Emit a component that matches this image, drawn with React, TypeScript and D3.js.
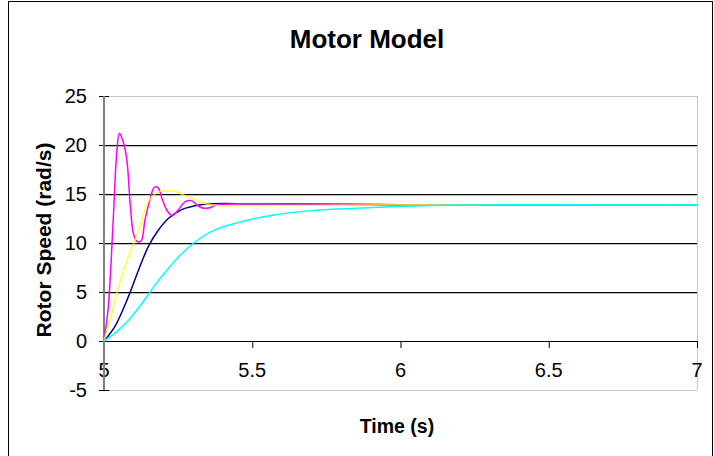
import * as d3 from 'd3';

const W = 714;
const H = 456;

const yTicks = [-5, 0, 5, 10, 15, 20, 25];
const xTicks = [5, 5.5, 6, 6.5, 7];

// series (time in s, speed in rad/s)
const magentaT = [5.0, 5.0145, 5.031, 5.043, 5.052, 5.065, 5.077, 5.088, 5.099, 5.11, 5.125, 5.138, 5.155, 5.17, 5.183, 5.195, 5.211, 5.23, 5.251, 5.273, 5.296, 5.313, 5.329, 5.357, 5.38, 5.45, 5.6, 6.0, 7.0];
const magentaV = [0, 3.5, 12.3, 19.2, 21.2, 20.3, 18.5, 14.1, 11.0, 10.2, 10.2, 12.3, 14.4, 15.7, 15.6, 14.6, 13.4, 12.8, 13.4, 14.2, 14.3, 13.9, 13.6, 13.6, 13.9, 14.0, 14.0, 13.9, 13.9];

const yellowT = [5.0, 5.0145, 5.026, 5.037, 5.06, 5.082, 5.105, 5.127, 5.149, 5.172, 5.195, 5.217, 5.239, 5.267, 5.296, 5.33, 5.363, 5.397, 5.5, 6.0, 7.0];
const yellowV = [0, 1.6, 2.8, 4.2, 6.6, 8.6, 10.3, 12.3, 14.2, 15.0, 15.3, 15.3, 15.3, 14.9, 14.6, 14.1, 13.9, 13.8, 13.8, 13.9, 13.9];

const navyT = [5.0, 5.037, 5.082, 5.116, 5.149, 5.183, 5.217, 5.262, 5.307, 5.363, 5.5, 6.0, 7.0];
const navyV = [0, 1.5, 4.5, 7.2, 9.6, 11.3, 12.5, 13.4, 13.8, 14.0, 14.0, 13.9, 13.9];

const cyanT = [5.0, 5.037, 5.082, 5.127, 5.172, 5.217, 5.262, 5.307, 5.352, 5.397, 5.442, 5.509, 5.571, 5.627, 5.74, 5.852, 5.965, 6.077, 6.133, 6.4, 7.0];
const cyanV = [0, 0.8, 2.1, 3.8, 5.7, 7.4, 8.9, 10.1, 11.0, 11.6, 12.0, 12.5, 12.85, 13.1, 13.4, 13.55, 13.7, 13.8, 13.85, 13.9, 13.9];

const series = [
  { t: navyT, v: navyV, color: '#000080', opacity: 1 },
  { t: magentaT, v: magentaV, color: '#ff00ff', opacity: 1 },
  { t: yellowT, v: yellowV, color: '#ffff00', opacity: 0.75 },
  { t: cyanT, v: cyanV, color: '#00ffff', opacity: 1 },
];

const font = 'Arial, "Liberation Sans", sans-serif';

export default function App() {
  const x = d3.scaleLinear().domain([5, 7]).range([104, 697]);
  const y = d3.scaleLinear().domain([-5, 25]).range([390, 96]);

  const line = d3
    .line<[number, number]>()
    .x((d) => x(d[0]))
    .y((d) => y(d[1]))
    .curve(d3.curveCatmullRom.alpha(0.5));

  return (
    <svg
      width={W}
      height={H}
      style={{ position: 'absolute', left: 0, top: 0, background: '#fff' }}
      fontFamily={font}
    >
      <rect x={8.5} y={1.5} width={704} height={500} fill="#fff" stroke="#000" strokeWidth={1} />

      {/* plot frame */}
      <line x1={x(5)} x2={x(7)} y1={y(25) + 0.5} y2={y(25) + 0.5} stroke="#c8c8c8" />
      <line x1={x(5)} x2={x(7)} y1={y(-5) + 0.5} y2={y(-5) + 0.5} stroke="#c8c8c8" />
      <line x1={x(7) + 0.5} x2={x(7) + 0.5} y1={y(25)} y2={y(-5)} stroke="#c8c8c8" />

      {/* gridlines */}
      {yTicks
        .filter((t) => t > 0 && t < 25)
        .map((t) => (
          <g key={t}>
            <line x1={x(5)} x2={x(7)} y1={y(t) + 0.5} y2={y(t) + 0.5} stroke="#000" />
            <line x1={x(5)} x2={x(7)} y1={y(t) + 1.5} y2={y(t) + 1.5} stroke="#c0c0c0" />
          </g>
        ))}

      {/* y ticks and labels */}
      {yTicks.map((t) => (
        <g key={t}>
          <line x1={x(5) - 5} x2={x(5) + 5} y1={y(t) + 0.5} y2={y(t) + 0.5} stroke="#000" />
          <text x={87} y={y(t)} dy="0.36em" textAnchor="end" fontSize={20}>
            {t}
          </text>
        </g>
      ))}

      {/* x axis */}
      <line x1={x(5) - 5} x2={x(7)} y1={y(0) + 0.5} y2={y(0) + 0.5} stroke="#000" />
      {xTicks.map((t) => (
        <g key={t}>
          <line x1={x(t) + 0.5} x2={x(t) + 0.5} y1={y(0)} y2={y(0) + 7} stroke="#000" />
          <text x={x(t)} y={377} textAnchor="middle" fontSize={20}>
            {t}
          </text>
        </g>
      ))}

      {/* y axis line */}
      <line x1={x(5)} x2={x(5)} y1={y(25)} y2={y(-5)} stroke="#808080" strokeWidth={2} />

      {series.map((s, i) => (
        <path
          key={i}
          d={line(s.t.map((t, j) => [t, s.v[j]] as [number, number])) ?? ''}
          fill="none"
          stroke={s.color}
          strokeOpacity={s.opacity}
          strokeWidth={1.5}
        />
      ))}

      <text x={367} y={48} textAnchor="middle" fontSize={26} fontWeight="bold">
        Motor Model
      </text>
      <text
        transform="translate(51,240) rotate(-90)"
        textAnchor="middle"
        fontSize={21}
        fontWeight="bold"
      >
        Rotor Speed (rad/s)
      </text>
      <text x={397} y={433} textAnchor="middle" fontSize={19.5} fontWeight="bold">
        Time (s)
      </text>
    </svg>
  );
}
